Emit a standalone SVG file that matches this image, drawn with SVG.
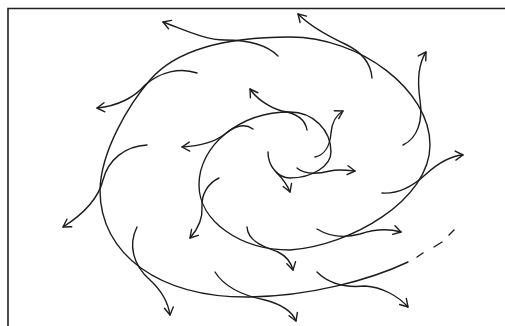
<svg xmlns="http://www.w3.org/2000/svg" width="505" height="326" viewBox="0 0 505 326">
  <style>
    .ln { fill: none; stroke: #1c1c1c; stroke-width: 1.4; stroke-linecap: round; stroke-linejoin: round; }
    .frame { fill: none; stroke: #222; stroke-width: 1.6; }
  </style>
  <defs>
    <marker id="head" markerUnits="userSpaceOnUse" markerWidth="20" markerHeight="20" refX="0" refY="0" orient="auto" overflow="visible">
      <path d="M-7.5,-4.5 L0,0 L-7.5,4.5" fill="none" stroke="#1c1c1c" stroke-width="1.4" stroke-linecap="round" stroke-linejoin="round"/>
    </marker>
  </defs>
  <rect width="505" height="326" fill="#fff"/>
  <g id="frame">
    <path class="frame" d="M8,326 L8,8.5 L505,8.5"/>
  </g>
  <g id="spiral">
    <path class="ln" d="M268,152 C268,166 278,178 290,178 C312,178 331,166 331,152 C331,130 313,112 290,112 C240,112 199,145 199,185 C199,221 240,250 290,250 C350,246 430,200 430,145 C430,90 360,37 290,37 C240,37 180,45 150,80 C130,103 101,150 100,190 C100,255 160,298 250,297 C310,296 370,280 408,262"/>
    <path class="ln" d="M417,257 L423,253 M434,247 L442,242 M449,235 L454,230"/>
  </g>
  <g id="connectors">
    <path class="ln" marker-end="url(#head)" d="M278,56 C268,46 250,40 225,40 C205,40 185,30 163,22"/>
    <path class="ln" marker-end="url(#head)" d="M197,73 C180,67 160,72 145,85 C135,97 118,106 97,108"/>
    <path class="ln" marker-end="url(#head)" d="M147,145 C125,146 108,160 103,180 C98,200 82,215 63,227"/>
    <path class="ln" marker-end="url(#head)" d="M137,227 C128,245 133,265 150,280 C162,291 168,302 170,315"/>
    <path class="ln" marker-end="url(#head)" d="M215,272 C225,288 245,296 265,300 C280,304 292,311 296,321"/>
    <path class="ln" marker-end="url(#head)" d="M317,272 C328,283 345,288 365,286 C382,287 398,296 408,307"/>
    <path class="ln" marker-end="url(#head)" d="M247,227 C248,242 265,247 278,252 C286,256 291,262 293,270"/>
    <path class="ln" marker-end="url(#head)" d="M317,229 C330,237 345,238 360,234 C375,229 390,229 401,232"/>
    <path class="ln" marker-end="url(#head)" d="M382,193 C398,194 412,187 425,175 C438,163 450,156 463,155"/>
    <path class="ln" marker-end="url(#head)" d="M403,145 C418,138 423,120 420,100 C417,80 419,63 426,52"/>
    <path class="ln" marker-end="url(#head)" d="M372,78 C371,64 362,52 345,44 C328,36 310,26 298,14"/>
    <path class="ln" marker-end="url(#head)" d="M307,130 C305,118 295,113 282,111 C268,107 256,98 250,89"/>
    <path class="ln" marker-end="url(#head)" d="M253,129 C246,124 236,125 225,134 C215,142 200,146 182,147"/>
    <path class="ln" marker-end="url(#head)" d="M219,178 C208,183 201,195 202,207 C203,220 197,230 190,238"/>
    <path class="ln" marker-end="url(#head)" d="M315,157 C325,155 330,145 331,133 C332,122 336,115 343,111"/>
    <path class="ln" marker-end="url(#head)" d="M297,168 C305,175 318,174 330,171 C338,169 346,170 355,171"/>
    <path class="ln" marker-end="url(#head)" d="M276,172 C282,178 287,184 290,192"/>
  </g>
</svg>
